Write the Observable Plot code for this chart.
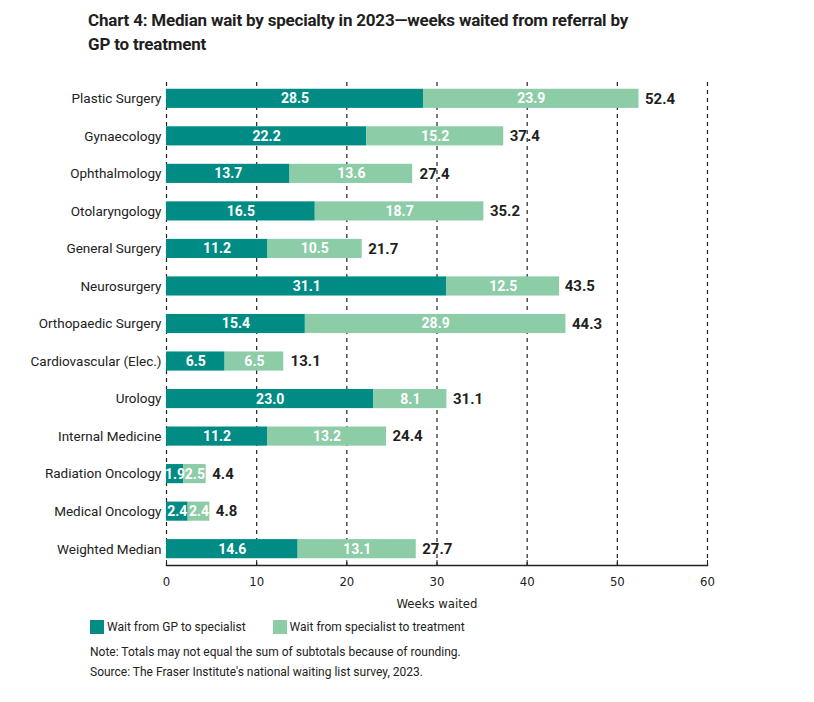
<!DOCTYPE html>
<html>
<head>
<meta charset="utf-8">
<script src="https://cdn.jsdelivr.net/npm/d3@7"></script>
<script src="https://cdn.jsdelivr.net/npm/@observablehq/plot@0.6"></script>
<style>
  body { margin: 0; background: #fff; font-family: Roboto, "Liberation Sans", sans-serif; }
  #wrap { position: relative; width: 814px; height: 702px; }
  #title { position: absolute; left: 88px; top: 8px; width: 600px; font-size: 17px; font-weight: 700; line-height: 24px; color: #1f1f1f; letter-spacing: -0.2px; }
  #chart { position: absolute; left: 0; top: 64px; }
  #legend { position: absolute; left: 90px; top: 620px; font-size: 12px; color: #222; display: flex; align-items: center; }
  .item { display: flex; align-items: center; margin-right: 27px; }
  .sw { width: 14px; height: 14px; margin-right: 3px; }
  #notes { position: absolute; left: 90px; top: 642px; font-size: 12px; line-height: 20px; color: #222; }
</style>
</head>
<body>
<div id="wrap">
  <div id="title">Chart 4: Median wait by specialty in 2023—weeks waited from referral by<br>GP to treatment</div>
  <div id="chart"></div>
  <div id="legend"></div>
  <div id="notes">Note: Totals may not equal the sum of subtotals because of rounding.<br>Source: The Fraser Institute's national waiting list survey, 2023.</div>
</div>
<script>
const categories = ["Plastic Surgery", "Gynaecology", "Ophthalmology", "Otolaryngology", "General Surgery", "Neurosurgery", "Orthopaedic Surgery", "Cardiovascular (Elec.)", "Urology", "Internal Medicine", "Radiation Oncology", "Medical Oncology", "Weighted Median"];
const gpToSpecialist = [28.5, 22.2, 13.7, 16.5, 11.2, 31.1, 15.4, 6.5, 23.0, 11.2, 1.9, 2.4, 14.6];
const specialistToTreatment = [23.9, 15.2, 13.6, 18.7, 10.5, 12.5, 28.9, 6.5, 8.1, 13.2, 2.5, 2.4, 13.1];
const totals = [52.4, 37.4, 27.4, 35.2, 21.7, 43.5, 44.3, 13.1, 31.1, 24.4, 4.4, 4.8, 27.7];
const seriesNames = ["Wait from GP to specialist", "Wait from specialist to treatment"];
const seriesColors = ["#008c84", "#8ccca7"];
const xTicks = [0, 10, 20, 30, 40, 50, 60];

const rows = [];
categories.forEach((c, i) => {
  rows.push({cat: c, series: seriesNames[0], value: gpToSpecialist[i]});
  rows.push({cat: c, series: seriesNames[1], value: specialistToTreatment[i]});
});
const totalRows = categories.map((c, i) => ({cat: c, total: totals[i]}));

const narrow = "'DejaVu Sans Condensed', 'Liberation Sans Narrow', 'Roboto', sans-serif";

const chart = Plot.plot({
  width: 814,
  height: 549,
  marginLeft: 166,
  marginRight: 107,
  marginTop: 18,
  marginBottom: 48,
  style: {fontFamily: "Roboto, sans-serif", fontSize: "13px", color: "#222", background: "transparent"},
  x: {domain: [0, 60], ticks: xTicks, label: "Weeks waited"},
  y: {domain: categories, paddingInner: 0.49, paddingOuter: 0.18, round: false, label: null},
  color: {domain: seriesNames, range: seriesColors},
  marks: [
    Plot.ruleX(xTicks, {stroke: "#222", strokeWidth: 1.2, strokeDasharray: "4,4"}),
    Plot.barX(rows, Plot.stackX({x: "value", y: "cat", fill: "series", order: seriesNames})),
    Plot.text(rows, Plot.stackX({x: "value", y: "cat", z: "series", order: seriesNames, text: d => d.value.toFixed(1), fill: "white", fontWeight: "bold", fontSize: 14, fontFamily: "Roboto, sans-serif", letterSpacing: "-0.6px"})),
    Plot.text(totalRows, {x: "total", y: "cat", text: d => d.total.toFixed(1), textAnchor: "start", dx: 6, fontWeight: "bold", fontSize: 15, fill: "#1f1f1f"}),
    Plot.axisY({tickSize: 0, tickPadding: 5, fontSize: 13.5, label: null}),
    Plot.axisX({ticks: xTicks, tickSize: -5, tickPadding: 16, tickFormat: d => d, fontSize: 13, fontFamily: narrow, label: "Weeks waited", labelAnchor: "center", labelArrow: "none", labelOffset: 42}),
    Plot.frame({anchor: "bottom", stroke: "#222", strokeWidth: 1.3})
  ]
});
document.getElementById("chart").appendChild(chart);

const legend = document.getElementById("legend");
seriesNames.forEach((s, i) => {
  const item = document.createElement("div");
  item.className = "item";
  item.innerHTML = `<div class="sw" style="background:${seriesColors[i]}"></div><span>${s}</span>`;
  legend.appendChild(item);
});
</script>
</body>
</html>
